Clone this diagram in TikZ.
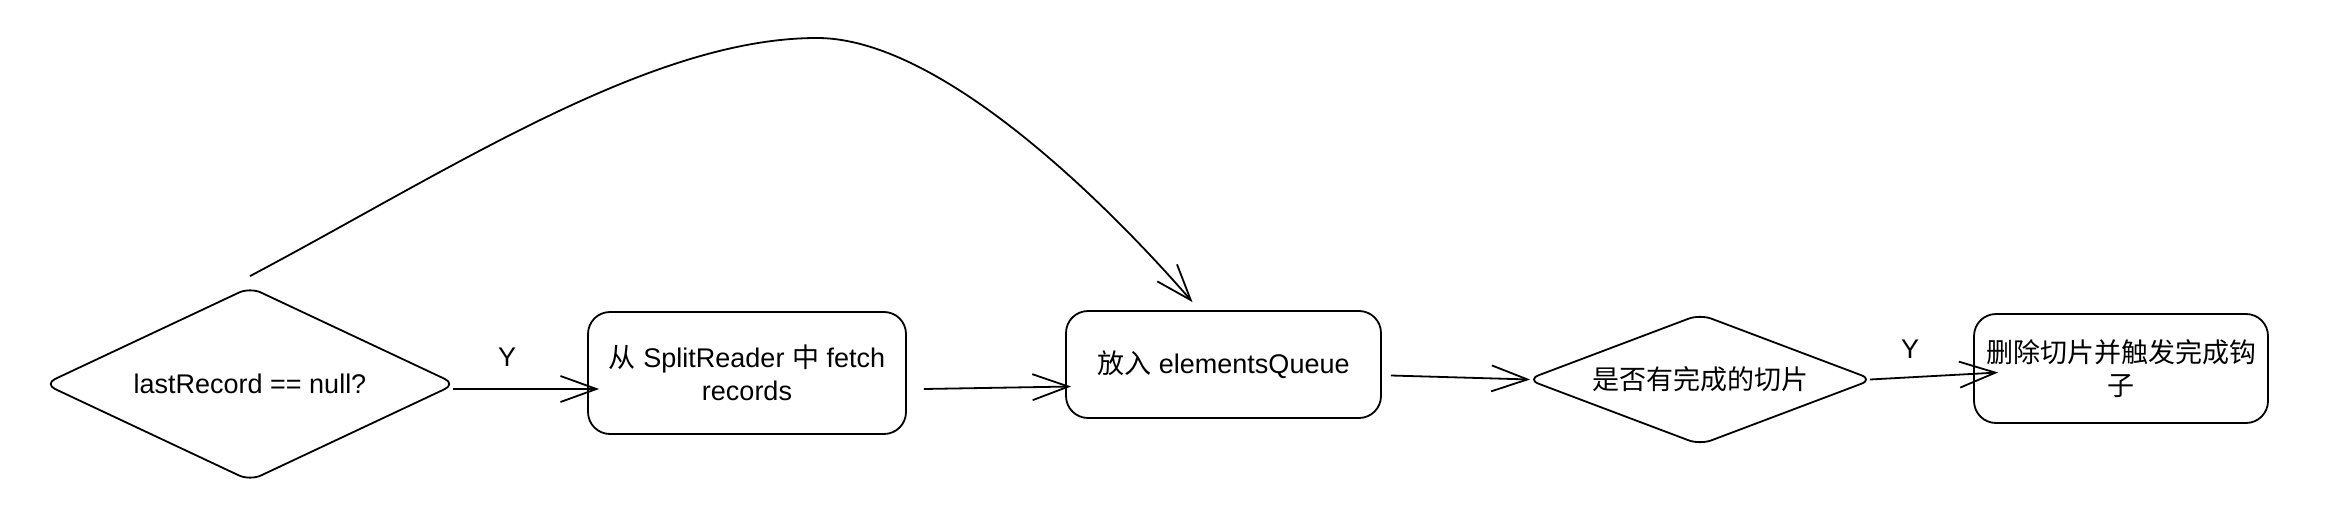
\documentclass[tikz,border=0pt]{standalone}
\usepackage{fontspec}
\setmainfont{Liberation Sans}
\newfontfamily\cjk{Noto Sans CJK SC}
\usetikzlibrary{shapes.geometric,arrows.meta}
\begin{document}
\begin{tikzpicture}[x=1pt,y=-1pt,
  every node/.style={font=\fontsize{27}{33}\selectfont, align=center, inner sep=0pt},
  stepbox/.style={draw, line width=1.8pt, rounded corners=22pt},
  decision/.style={draw, shape=diamond, line width=1.8pt, rounded corners=12pt},
  arr/.style={line width=1.8pt, -{Straight Barb[length=36pt,width=26pt,line width=1.8pt]}},
  lbl/.style={font=\fontsize{27}{33}\selectfont}]
\fill[white] (0,0) rectangle (2328,516);
\useasboundingbox (0,0) rectangle (2328,516);

\node[decision, aspect=2.13, minimum width=412pt, minimum height=194pt] (D1) at (250,384) {lastRecord == null?};
\node[stepbox, minimum width=318pt, minimum height=122pt] (B1) at (747,373)
  {{\cjk 从} SplitReader {\cjk 中} fetch\\records};
\node[stepbox, minimum width=315pt, minimum height=107pt] (B2) at (1223.5,364.5)
  {{\cjk 放入} elementsQueue};
\node[decision, aspect=2.65, minimum width=346pt, minimum height=131pt] (D2) at (1700,379.5)
  {\cjk 是否有完成的切片};
\node[stepbox, minimum width=294pt, minimum height=109pt] (B3) at (2121,368.5)
  {\cjk 删除切片并触发完成钩\\\cjk 子};

\node[lbl] (Y1) at (507,357) {Y};
\node[lbl] (Y2) at (1910,349) {Y};

\draw[arr] ([xshift=-4pt,yshift=-5pt]D1.east) -- ([xshift=12pt,yshift=-16pt]B1.west);
\draw[arr] ([xshift=17pt,yshift=-16pt]B1.east) -- ([xshift=6pt,yshift=-22pt]B2.west);
\draw[arr] ([xshift=9pt,yshift=-11pt]B2.east) -- ([xshift=4pt]D2.west);
\draw[arr] ([xshift=-4pt]D2.east) -- ([xshift=25pt,yshift=-4pt]B3.west);

\coordinate (CS) at ([yshift=10pt]D1.north);
\coordinate (CP) at (817,38);
\draw[arr] (CS) .. controls (450,170) and (650,38) .. (CP)
  .. controls (950,38) and (1130,230) .. ([xshift=-31pt,yshift=8pt]B2.north);
\end{tikzpicture}
\end{document}
